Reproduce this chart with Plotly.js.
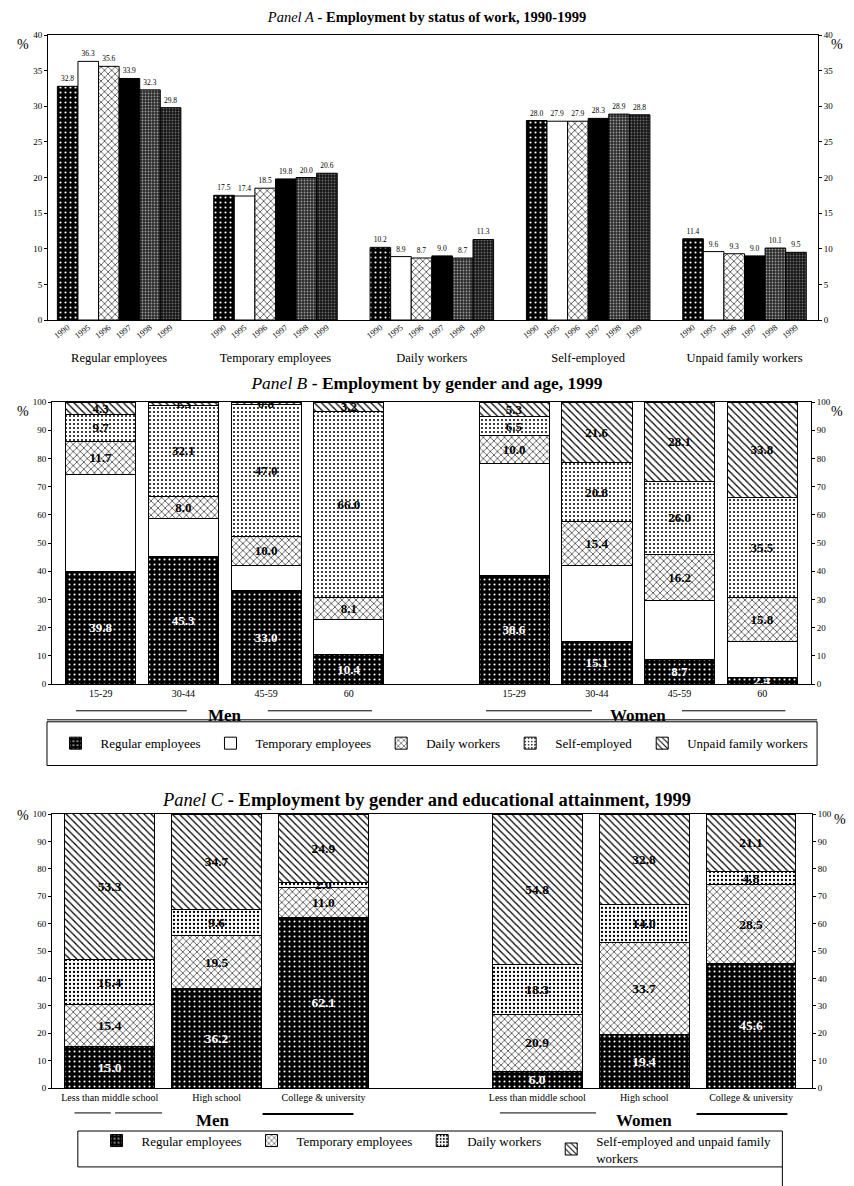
<!DOCTYPE html>
<html><head><meta charset="utf-8">
<script src="https://cdn.plot.ly/plotly-3.0.1.min.js"></script>
<style>
html,body{margin:0;padding:0;background:#fff;}
#a{position:absolute;left:0;top:0;width:854px;height:365px;}
#b{position:absolute;left:0;top:365px;width:854px;height:405px;}
#c{position:absolute;left:0;top:770px;width:854px;height:416px;}
</style></head><body>
<div id="a"></div><div id="b"></div><div id="c"></div>
<script>
const FONT = '"Liberation Serif", "Times New Roman", serif';

// ---------- Panel A data ----------
const statusCats = ['Regular employees','Temporary employees','Daily workers','Self-employed','Unpaid family workers'];
const years = ['1990','1995','1996','1997','1998','1999'];
const v1990 = [32.8,17.5,10.2,28.0,11.4];
const v1995 = [36.3,17.4,8.9,27.9,9.6];
const v1996 = [35.6,18.5,8.7,27.9,9.3];
const v1997 = [33.9,19.8,9.0,28.3,9.0];
const v1998 = [32.3,20.0,8.7,28.9,10.1];
const v1999 = [29.8,20.6,11.3,28.8,9.5];
const yearValues = [v1990,v1995,v1996,v1997,v1998,v1999];

// ---------- Panel B data ----------
const ageCats = ['15-29','30-44','45-59','60'];
const genders = ['Men','Women'];
const bRegular   = [39.8,45.3,33.0,10.4, 38.6,15.1,8.7,2.4];
const bTemporary = [34.5,13.3,9.2,12.3, 39.6,27.1,21.0,12.5];
const bDaily     = [11.7,8.0,10.0,8.1, 10.0,15.4,16.2,15.8];
const bSelf      = [9.7,32.1,47.0,66.0, 6.5,20.8,26.0,35.5];
const bUnpaid    = [4.3,1.3,0.8,3.2, 5.3,21.6,28.1,33.8];
const bSeriesNames = ['Regular employees','Temporary employees','Daily workers','Self-employed','Unpaid family workers'];

// ---------- Panel C data ----------
const eduCats = ['Less than middle school','High school','College & university'];
const cRegular    = [15.0,36.2,62.1, 6.0,19.4,45.6];
const cTemporary  = [15.4,19.5,11.0, 20.9,33.7,28.5];
const cDaily      = [16.4,9.6,2.0, 18.3,14.0,4.8];
const cSelfUnpaid = [53.3,34.7,24.9, 54.8,32.8,21.1];
const cSeriesNames = ['Regular employees','Temporary employees','Daily workers','Self-employed and unpaid family<br>workers'];

// ---------- styles ----------
function patt(shape,bg,fg,size,sol){return {shape:shape,bgcolor:bg,fgcolor:fg,size:size,solidity:sol,fillmode:'replace'};}
const DOTS_DARK = patt('.', '#000', '#fff', 5, 0.14);
const CROSS = patt('x', '#fff', '#000', 5, 0.22);
const DOTS_LIGHT = patt('.', '#fff', '#000', 4, 0.2);
const DIAG = patt('\\', '#fff', '#000', 5, 0.25);
const yearStyles = [
  {color:'#000', pattern: DOTS_DARK},
  {color:'#fff'},
  {color:'#fff', pattern: CROSS},
  {color:'#000'},
  {color:'#333', pattern: patt('.', '#2a2a2a', '#9a9a9a', 3, 0.3)},
  {color:'#222', pattern: patt('.', '#151515', '#6a6a6a', 3, 0.3)}
];
const line = {color:'#000', width:1};
const axFont = {family:FONT, size:9, color:'#000'};
const cfg = {displayModeBar:false, staticPlot:true};
// helper traces with no visible marks, so that the mirrored axes get drawn
function axisHelper(xa, ya, xval){
  return {type:'scatter', mode:'markers', x:[xval], y:[null], xaxis:xa, yaxis:ya, showlegend:false, hoverinfo:'skip', marker:{opacity:0}};
}

// ================= Panel A =================
(function(){
  const bargap = 0.21;
  const traces = years.map((yr,j)=>({
    type:'bar', name:yr, x:statusCats, y:yearValues[j],
    marker:Object.assign({line:line}, yearStyles[j]),
    texttemplate:'%{y:.1f}', textposition:'outside', textangle:0,
    textfont:{family:FONT,size:7.5,color:'#000'}, outsidetextfont:{family:FONT,size:7.5,color:'#000'}, cliponaxis:false,
    showlegend:false, hoverinfo:'none'
  }));
  const bw = (1-bargap)/years.length;
  const tv=[], tt=[];
  statusCats.forEach((c,i)=>years.forEach((yr,j)=>{ tv.push(i-(1-bargap)/2+(j+0.5)*bw); tt.push(yr); }));
  const rng = [-0.455, 4.47];
  traces.push(axisHelper('x2','y',tv[0]));
  traces.push(axisHelper('x','y2',statusCats[0]));
  const layout = {
    width:854, height:365, margin:{l:48,r:36,t:35,b:45},
    paper_bgcolor:'#fff', plot_bgcolor:'#fff',
    barmode:'group', bargap:bargap, bargroupgap:0,
    title:{text:'<i>Panel A</i> <b>- Employment by status of work, 1990-1999</b>',
      font:{family:FONT,size:14.5,color:'#000'}, x:0.5, xref:'container', y:1-17/365, yref:'container', yanchor:'middle'},
    xaxis:{type:'category', range:rng, showline:true, mirror:true, linecolor:'#000', linewidth:1,
      ticks:'', tickfont:{family:FONT,size:12.5,color:'#000'}, ticklabelstandoff:26, showgrid:false, zeroline:false},
    xaxis2:{overlaying:'x', anchor:'y', side:'bottom', type:'linear', range:rng, tickmode:'array',
      tickvals:tv, ticktext:tt, tickangle:-38, tickfont:{family:FONT,size:8.5,color:'#000'},
      ticks:'', showgrid:false, zeroline:false, showline:false},
    yaxis:{range:[0,40], dtick:5, ticks:'outside', ticklen:3, tickcolor:'#000', tickfont:axFont,
      showline:true, mirror:true, linecolor:'#000', linewidth:1, showgrid:false, zeroline:false},
    yaxis2:{overlaying:'y', side:'right', anchor:'x', range:[0,40], dtick:5, ticks:'outside', ticklen:3,
      tickcolor:'#000', tickfont:axFont, showgrid:false, zeroline:false, showline:false},
    annotations:[
      {text:'%', xref:'paper', yref:'paper', x:-0.043, y:1.0, showarrow:false, font:{family:FONT,size:14,color:'#000'}},
      {text:'%', xref:'paper', yref:'paper', x:1.035, y:1.0, showarrow:false, font:{family:FONT,size:14,color:'#000'}}
    ]
  };
  Plotly.newPlot('a', traces, layout, cfg);
})();

// ================= Panel B =================
(function(){
  const keys = [];
  genders.forEach(g=>ageCats.forEach(a=>keys.push(g+' '+a)));
  const catArray = keys.slice(0,4).concat(['gap']).concat(keys.slice(4));
  const tickText = genders.map(()=>ageCats).flat();
  const series = [bRegular,bTemporary,bDaily,bSelf,bUnpaid];
  const styles = [
    {color:'#000', pattern:DOTS_DARK},
    {color:'#fff'},
    {color:'#fff', pattern:CROSS},
    {color:'#fff', pattern:DOTS_LIGHT},
    {color:'#fff', pattern:DIAG}
  ];
  const traces = series.map((vals,k)=>({
    type:'bar', name:bSeriesNames[k], x:keys, y:vals,
    marker:Object.assign({line:line}, styles[k]),
    text: k===1 ? vals.map(()=>'') : vals.map(v=>v.toFixed(1)),
    texttemplate:'%{text}', textposition:'inside', insidetextanchor:'middle', textangle:0, constraintext:'none',
    textfont:{family:FONT,size:13,color: k===0 ? '#fff' : '#000', weight:'bold'},
    hoverinfo:'none'
  }));
  traces.push(axisHelper('x','y2',keys[0]));
  const rng = [-0.59, 8.59];
  const lineY = -0.095;
  const seg = (x0,x1)=>({type:'line', xref:'x', yref:'paper', x0:x0, x1:x1, y0:lineY, y1:lineY, line:{color:'#000',width:1}});
  const layout = {
    width:854, height:405, margin:{l:52,r:43,t:37,b:84},
    paper_bgcolor:'#fff', plot_bgcolor:'#fff',
    barmode:'stack', bargap:0.15,
    title:{text:'<i>Panel B</i> <b>- Employment by gender and age, 1999</b>',
      font:{family:FONT,size:17.5,color:'#000'}, x:0.5, xref:'container', y:1-18/405, yref:'container', yanchor:'middle'},
    xaxis:{type:'category', categoryorder:'array', categoryarray:catArray, range:rng,
      tickmode:'array', tickvals:keys, ticktext:tickText, ticks:'', tickfont:{family:FONT,size:10,color:'#000'},
      showline:true, mirror:true, linecolor:'#000', linewidth:1, showgrid:false, zeroline:false},
    yaxis:{range:[0,100], dtick:10, ticks:'outside', ticklen:3, tickcolor:'#000', tickfont:axFont,
      showline:true, mirror:true, linecolor:'#000', linewidth:1, showgrid:false, zeroline:false},
    yaxis2:{overlaying:'y', side:'right', anchor:'x', range:[0,100], dtick:10, ticks:'outside', ticklen:3,
      tickcolor:'#000', tickfont:axFont, showgrid:false, zeroline:false, showline:false},
    legend:{orientation:'h', x:-0.002, xanchor:'left', y:-0.21, yanchor:'middle', traceorder:'normal', itemwidth:40,
      font:{family:FONT,size:13,color:'#000'}, bgcolor:'rgba(0,0,0,0)'},
    shapes:[
      seg(-0.30,1.04), seg(2.02,3.28), seg(4.66,5.94), seg(7.03,8.28),
      {type:'rect', xref:'paper', yref:'paper', x0:-0.0066, x1:1.008, y0:-0.289, y1:-0.134, line:{color:'#000',width:1}},
      {type:'line', xref:'paper', yref:'paper', x0:-0.0066, x1:1.008, y0:-0.127, y1:-0.127, line:{color:'#000',width:1}}
    ],
    annotations:[
      {text:'<b>Men</b>', xref:'x', yref:'paper', x:1.5, y:-0.113, yanchor:'middle', showarrow:false, font:{family:FONT,size:17,color:'#000'}},
      {text:'<b>Women</b>', xref:'x', yref:'paper', x:6.5, y:-0.113, yanchor:'middle', showarrow:false, font:{family:FONT,size:17,color:'#000'}},
      {text:'%', xref:'paper', yref:'paper', x:-0.049, y:1.0, showarrow:false, font:{family:FONT,size:14,color:'#000'}},
      {text:'%', xref:'paper', yref:'paper', x:1.045, y:1.0, showarrow:false, font:{family:FONT,size:14,color:'#000'}}
    ]
  };
  Plotly.newPlot('b', traces, layout, cfg);
})();

// ================= Panel C =================
(function(){
  const keys = [];
  genders.forEach(g=>eduCats.forEach(e=>keys.push(g+' '+e)));
  const catArray = keys.slice(0,3).concat(['gap']).concat(keys.slice(3));
  const tickText = genders.map(()=>eduCats).flat();
  const series = [cRegular,cTemporary,cDaily,cSelfUnpaid];
  const styles = [
    {color:'#000', pattern:DOTS_DARK},
    {color:'#fff', pattern:CROSS},
    {color:'#fff', pattern:patt('.', '#fff', '#000', 4, 0.26)},
    {color:'#fff', pattern:DIAG}
  ];
  const traces = series.map((vals,k)=>({
    type:'bar', name:cSeriesNames[k], x:keys, y:vals,
    marker:Object.assign({line:line}, styles[k]),
    text: vals.map(v=>v.toFixed(1)),
    texttemplate:'%{text}', textposition:'inside', insidetextanchor:'middle', textangle:0, constraintext:'none',
    textfont:{family:FONT,size:13.5,color: k===0 ? '#fff' : '#000', weight:'bold'},
    hoverinfo:'none'
  }));
  traces.push(axisHelper('x','y2',keys[0]));
  const rng = [-0.54, 6.57];
  const lineY = -0.091;
  const seg = (x0,x1)=>({type:'line', xref:'x', yref:'paper', x0:x0, x1:x1, y0:lineY, y1:lineY, line:{color:'#000',width:1}});
  const layout = {
    width:854, height:416, margin:{l:52,r:42,t:44,b:98},
    paper_bgcolor:'#fff', plot_bgcolor:'#fff',
    barmode:'stack', bargap:0.16,
    title:{text:'<i>Panel C</i> <b>- Employment by gender and educational attainment, 1999</b>',
      font:{family:FONT,size:18.5,color:'#000'}, x:0.5, xref:'container', y:1-30/416, yref:'container', yanchor:'middle'},
    xaxis:{type:'category', categoryorder:'array', categoryarray:catArray, range:rng,
      tickmode:'array', tickvals:keys, ticktext:tickText, ticks:'', tickfont:{family:FONT,size:10,color:'#000'},
      showline:true, mirror:true, linecolor:'#000', linewidth:1, showgrid:false, zeroline:false},
    yaxis:{range:[0,100], dtick:10, ticks:'outside', ticklen:3, tickcolor:'#000', tickfont:axFont,
      showline:true, mirror:true, linecolor:'#000', linewidth:1, showgrid:false, zeroline:false},
    yaxis2:{overlaying:'y', side:'right', anchor:'x', range:[0,100], dtick:10, ticks:'outside', ticklen:3,
      tickcolor:'#000', tickfont:axFont, showgrid:false, zeroline:false, showline:false},
    legend:{orientation:'h', x:0.052, xanchor:'left', y:-0.223, yanchor:'middle', traceorder:'normal', itemwidth:40,
      font:{family:FONT,size:13,color:'#000'}, bgcolor:'rgba(0,0,0,0)'},
    shapes:[
      seg(-0.33,0.01), seg(0.05,0.49), {type:'line', xref:'x', yref:'paper', x0:1.43, x1:2.28, y0:lineY-0.004, y1:lineY-0.004, line:{color:'#000',width:2}},
      seg(3.65,4.55), {type:'line', xref:'x', yref:'paper', x0:5.49, x1:6.34, y0:lineY-0.004, y1:lineY-0.004, line:{color:'#000',width:2}},
      {type:'rect', xref:'paper', yref:'paper', x0:0.034, x1:0.961, y0:-0.288, y1:-0.157, line:{color:'#000',width:1}},
      {type:'line', xref:'paper', yref:'paper', x0:0.961, x1:0.961, y0:-0.288, y1:-0.36, line:{color:'#000',width:1}}
    ],
    annotations:[
      {text:'<b>Men</b>', xref:'x', yref:'paper', x:0.97, y:-0.12, yanchor:'middle', showarrow:false, font:{family:FONT,size:17,color:'#000'}},
      {text:'<b>Women</b>', xref:'x', yref:'paper', x:5.0, y:-0.12, yanchor:'middle', showarrow:false, font:{family:FONT,size:17,color:'#000'}},
      {text:'%', xref:'paper', yref:'paper', x:-0.049, y:1.03, showarrow:false, font:{family:FONT,size:14,color:'#000'}},
      {text:'%', xref:'paper', yref:'paper', x:1.047, y:1.015, showarrow:false, font:{family:FONT,size:14,color:'#000'}}
    ]
  };
  Plotly.newPlot('c', traces, layout, cfg);
})();
</script>
</body></html>
